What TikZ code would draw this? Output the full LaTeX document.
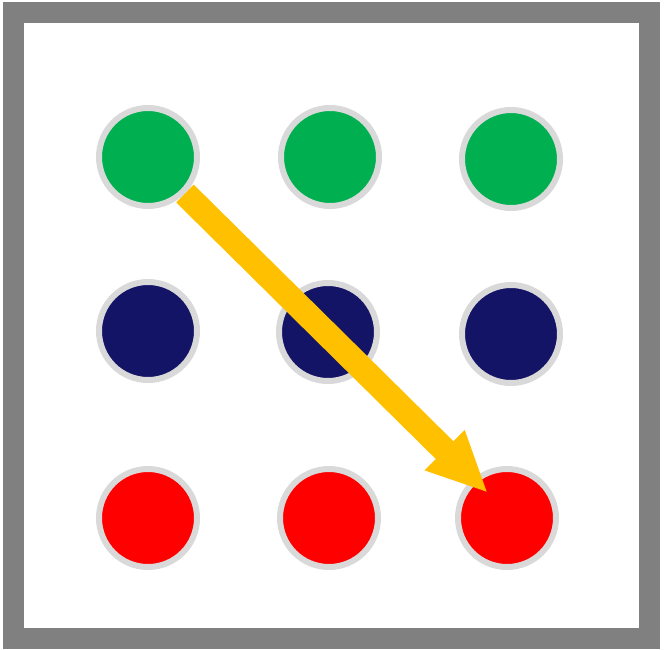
\documentclass[tikz,border=0pt]{standalone}
\usetikzlibrary{arrows.meta,positioning}
\definecolor{dotgreen}{HTML}{00B050}
\definecolor{dotblue}{HTML}{141466}
\definecolor{dotred}{HTML}{FF0000}
\definecolor{ringgray}{HTML}{D9D9D9}
\definecolor{framegray}{HTML}{808080}
\definecolor{arrowyellow}{HTML}{FFC000}
\begin{document}
\begin{tikzpicture}
[
	x=1pt,y=-1pt,
	dot/.style={shape=circle,draw=ringgray,line width=6pt,minimum size=98pt,inner sep=0pt},
	pointer/.style={draw=arrowyellow,fill=arrowyellow,line width=25pt,-{Triangle[length=61pt,width=52pt]}},
]
	\useasboundingbox (0,0) rectangle (664,650);

	\begin{scope}
		\draw[draw=framegray,line width=21pt] (13.5,13) rectangle (649.5,638);
	\end{scope}

	\begin{scope}
		\node[dot,fill=dotgreen] (g1) at (148,157){};
		\node[dot,fill=dotgreen] (g2) at (330,157){};
		\node[dot,fill=dotgreen] (g3) at (511,159){};
		\node[dot,fill=dotblue] (b1) at (148,331){};
		\node[dot,fill=dotblue] (b2) at (328,332){};
		\node[dot,fill=dotblue] (b3) at (511,334){};
		\node[dot,fill=dotred] (r1) at (148,518){};
		\node[dot,fill=dotred] (r2) at (329,518){};
		\node[dot,fill=dotred] (r3) at (507,518){};
	\end{scope}

	\begin{scope}
		\coordinate (tip) at (488,493);
		\draw[pointer] (g1) -- (tip);
	\end{scope}
\end{tikzpicture}
\end{document}
